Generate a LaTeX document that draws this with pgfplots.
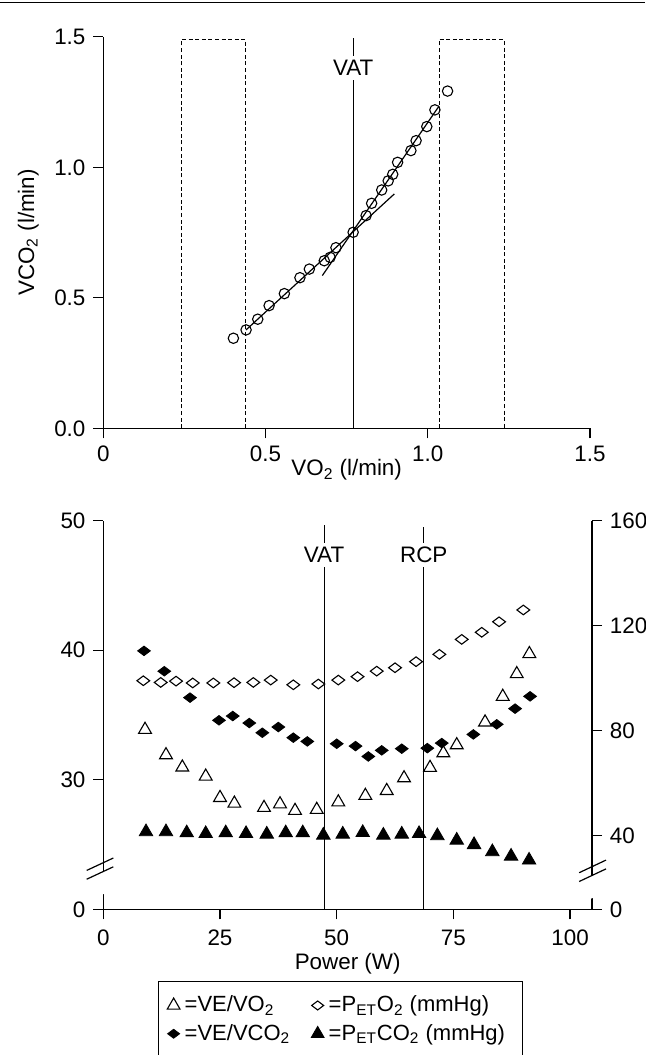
\documentclass[border=0pt]{standalone}
\usepackage{fontspec}
\setmainfont{Liberation Sans}
\usepackage{pgfplots}
\pgfplotsset{compat=1.18}

\newcommand{\lbl}{\fontsize{11.2}{13}\selectfont}
\newcommand{\leg}{\fontsize{11}{13}\selectfont}
\pgfplotsset{
  base/.style={
    scale only axis, clip=false,
    tick align=outside, major tick length=5pt,
    axis line style={line width=0.6pt},
    every tick/.style={black, line width=0.6pt},
    /pgf/number format/assume math mode=true,
    tick label style={font=\lbl},
  }
}

\begin{document}
\lbl
\begin{tikzpicture}
\useasboundingbox (0,0) rectangle (322.5pt,527.5pt);
\draw[line width=0.7pt] (0,526.2pt) -- (322.5pt,526.2pt);

% ---- upper panel: V-slope
\begin{axis}[base,
  at={(51.65pt,313.35pt)}, anchor=south west,
  width=243.35pt, height=195.75pt,
  xmin=0, xmax=1.5, ymin=0, ymax=1.5,
  axis x line*=bottom, axis y line*=left,
  xtick={0,0.5,1,1.5}, xticklabels={0,0.5,1.0,1.5},
  ytick={0,0.5,1,1.5}, yticklabels={0.0,0.5,1.0,1.5},
  xlabel={VO\textsubscript{2} (l/min)},
  ylabel={VCO\textsubscript{2} (l/min)},
  every axis x label/.style={at={(axis description cs:0.5,-0.107)}, anchor=center},
  every axis y label/.style={at={(axis description cs:-0.154,0.5)}, rotate=90, anchor=center},
]
\addplot[only marks, mark=o, mark size=2.6pt, mark options={line width=0.55pt}] table {
x y
0.401 0.345
0.440 0.377
0.476 0.418
0.511 0.470
0.558 0.516
0.606 0.577
0.635 0.610
0.681 0.642
0.699 0.655
0.717 0.692
0.770 0.751
0.810 0.815
0.827 0.862
0.858 0.913
0.878 0.948
0.892 0.973
0.907 1.019
0.948 1.064
0.964 1.102
0.997 1.156
1.022 1.220
1.061 1.292
};
\addplot[no marks, line width=0.6pt] coordinates {(0.44,0.377) (0.897,0.898)};
\addplot[no marks, line width=0.6pt] coordinates {(0.675,0.585) (1.035,1.235)};
\draw[dash pattern=on 2pt off 1.3pt, line width=0.5pt] (axis cs:0.241,0) rectangle (axis cs:0.439,1.49);
\draw[dash pattern=on 2pt off 1.3pt, line width=0.5pt] (axis cs:1.035,0) rectangle (axis cs:1.235,1.49);
\draw[line width=0.55pt] (axis cs:0.7704,0) -- (axis cs:0.7704,1.495);
\node[fill=white, inner sep=2pt] at (axis cs:0.7704,1.38) {VAT};
\end{axis}

% ---- lower panel, left scale
\begin{axis}[base,
  at={(51.65pt,72.85pt)}, anchor=south west,
  width=244.35pt, height=194.3pt,
  xmin=0, xmax=104.7, ymin=20, ymax=50,
  axis x line*=bottom, axis y line*=left,
  xtick={0,25,50,75,100}, xticklabels={0,25,50,75,100},
  xticklabel style={yshift=-1.5pt},
  ytick={20,30,40,50}, yticklabels={0,30,40,50},
  xlabel={Power (W)},
  every axis x label/.style={at={(axis description cs:0.5,-0.1408)}, anchor=center},
]
% VE/VO2
\addplot[only marks, mark=triangle, mark size=3.7pt, mark options={line width=0.55pt}] table {
x y
8.94 33.87
13.43 31.91
16.93 30.96
21.94 30.26
25.01 28.61
28.08 28.17
34.43 27.84
37.86 28.12
41.08 27.61
45.73 27.69
50.35 28.27
56.14 28.77
60.72 29.15
64.43 30.13
70.00 30.93
72.85 32.06
75.72 32.68
81.79 34.44
85.58 36.42
88.58 38.17
91.28 39.72
};
% VE/VCO2
\addplot[only marks, mark=diamond*, mark size=3.2pt, mark options={rotate=90, fill=black}] table {
x y
8.72 39.95
13.07 38.38
18.58 36.34
24.79 34.59
27.73 34.92
31.28 34.38
34.07 33.63
37.50 34.07
40.71 33.25
43.71 32.96
50.01 32.78
54.04 32.60
56.78 31.80
59.65 32.27
63.94 32.40
69.42 32.44
72.51 32.83
79.28 33.50
84.29 34.28
88.22 35.49
91.43 36.44
};
\draw[line width=0.55pt] (axis cs:47.3,20) -- (axis cs:47.3,49.67);
\draw[line width=0.55pt] (axis cs:68.65,20) -- (axis cs:68.65,49.54);
\node[fill=white, inner sep=2pt] at (axis cs:47.3,47.35) {VAT};
\node[fill=white, inner sep=2pt] at (axis cs:68.65,47.35) {RCP};
\end{axis}

% ---- lower panel, right scale (mmHg)
\begin{axis}[base,
  at={(51.65pt,72.85pt)}, anchor=south west,
  width=244.35pt, height=194.3pt,
  xmin=0, xmax=104.7, ymin=12, ymax=160,
  axis x line=none, axis y line*=right,
  ytick={12,40,80,120,160}, yticklabels={0,40,80,120,160},
  legend columns=2,
  legend cell align=left,
  legend style={draw=none, fill=none, inner sep=0pt,
    at={(axis description cs:0.130,-0.219)}, anchor=north west,
    font=\leg, row sep=3.5pt,
    /tikz/every even column/.append style={column sep=10pt},
    nodes={inner sep=0.5pt}},
  legend image code/.code={\draw[mark repeat=2, mark phase=2, #1] plot coordinates {(0cm,0cm) (0.14cm,0cm) (0.28cm,0cm)};},
]
\addlegendimage{only marks, mark=triangle, mark size=3.7pt, mark options={line width=0.55pt}}
\addlegendentry{\,=VE/VO\textsubscript{2}}
\addlegendimage{only marks, mark=diamond, mark size=3pt, mark options={rotate=90, line width=0.55pt}}
\addlegendentry{\,=P\textsubscript{ET}O\textsubscript{2} (mmHg)}
\addlegendimage{only marks, mark=diamond*, mark size=3pt, mark options={rotate=90, fill=black}}
\addlegendentry{\,=VE/VCO\textsubscript{2}}
\addlegendimage{only marks, mark=triangle*, mark size=3.7pt, mark options={fill=black}}
\addlegendentry{\,=P\textsubscript{ET}CO\textsubscript{2} (mmHg)}
% PETO2
\addplot[forget plot, only marks, mark=diamond, mark size=3.2pt, mark options={rotate=90, line width=0.55pt}] table {
x y
8.57 99.05
12.30 98.4
15.58 98.9
19.16 98.2
23.57 98.2
28.01 98.3
32.14 98.4
35.87 99.3
40.71 97.5
46.07 97.8
50.35 99.3
54.47 100.6
58.58 102.7
62.50 104.0
67.00 106.3
72.00 109.1
76.79 114.8
81.08 117.5
84.79 121.5
89.99 126.0
};
% PETCO2
\addplot[forget plot, only marks, mark=triangle*, mark size=3.9pt, mark options={fill=black}] table {
x y
9.15 41.5
13.43 41.5
17.87 41.1
21.94 40.8
26.23 41.1
30.58 40.8
35.02 40.6
39.08 41.1
42.73 41.1
47.14 40.2
51.30 40.6
55.58 41.2
60.00 40.2
63.94 40.6
67.65 40.8
71.57 40.0
75.72 38.3
79.43 36.6
83.35 33.9
87.36 32.2
91.22 30.7
};
% axis breaks
\fill[white] (axis cs:0,28.1) ++(-1pt,-2.7pt) -- ++(2pt,0.95pt) -- ++(0,4.4pt) -- ++(-2pt,-0.95pt) -- cycle;
\draw[line width=0.6pt] (axis cs:0,28.1) ++(-8.3pt,-1.7pt) -- ++(13.3pt,6.2pt);
\draw[line width=0.6pt] (axis cs:0,28.1) ++(-8.3pt,-6.1pt) -- ++(13.3pt,6.2pt);
\fill[white] (axis cs:104.7,26.55) ++(-1pt,-2.7pt) -- ++(2pt,0.95pt) -- ++(0,4.4pt) -- ++(-2pt,-0.95pt) -- cycle;
\draw[line width=0.6pt] (axis cs:104.7,26.55) ++(-6.4pt,-0.8pt) -- ++(13.4pt,6.3pt);
\draw[line width=0.6pt] (axis cs:104.7,26.55) ++(-6.4pt,-5.2pt) -- ++(13.4pt,6.3pt);
\end{axis}

% legend frame (open at the bottom, runs off the page)
\draw[line width=0.6pt] (79.15pt,-5pt) -- (79.15pt,36.65pt) -- (261.35pt,36.65pt) -- (261.35pt,-5pt);
\end{tikzpicture}
\end{document}
